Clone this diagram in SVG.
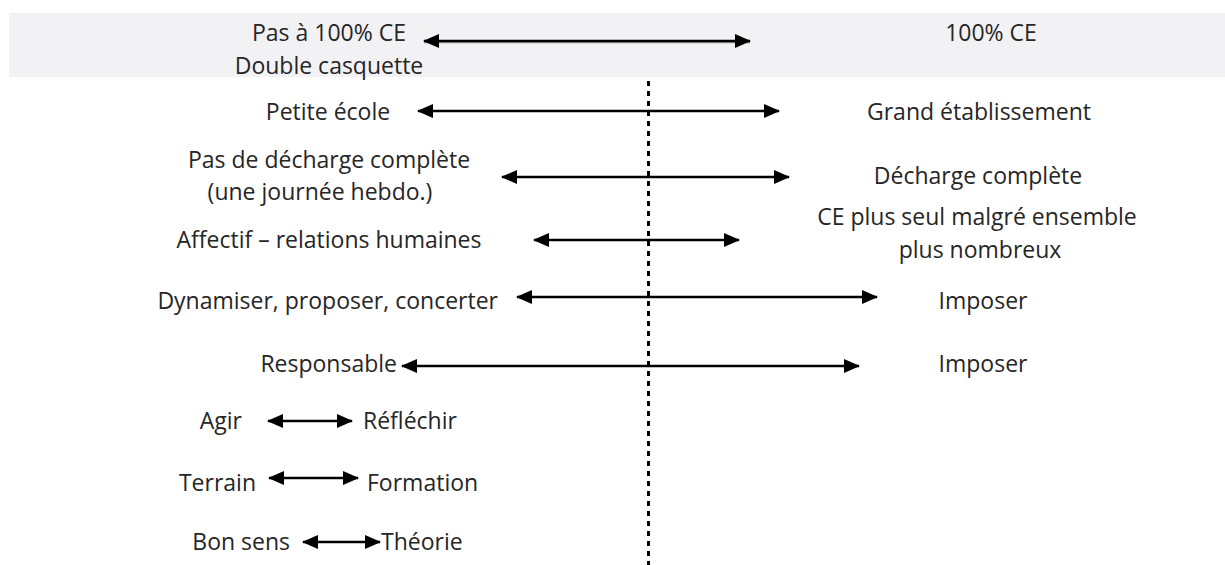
<svg xmlns="http://www.w3.org/2000/svg" width="1225" height="565" viewBox="0 0 1225 565">
  <defs>
    <marker id="ah" viewBox="0 0 16 14" refX="15" refY="7" markerWidth="16" markerHeight="14" markerUnits="userSpaceOnUse" orient="auto-start-reverse">
      <path d="M0,0 L16,7 L0,14 z" fill="#000"/>
    </marker>
  </defs>
  <style>
    text { font-family: "Open Sans", "Noto Sans", sans-serif; font-size: 23px; fill: #262626; }
    .m { text-anchor: middle; }
    .e { text-anchor: end; }
    .s { text-anchor: start; }
    .arr { stroke: #000; stroke-width: 2.4; fill: none; marker-start: url(#ah); marker-end: url(#ah); }
  </style>
  <rect id="band" x="9" y="13" width="1216" height="64" fill="#f2f2f4"/>
  <line id="axis" x1="648.5" y1="81" x2="648.5" y2="565" stroke="#000" stroke-width="3" stroke-dasharray="5 5"/>

  <g id="connectors">
    <line x1="424" y1="42.5" x2="750" y2="42.5" stroke="#999" stroke-width="1.5"/>
    <line class="arr" x1="424" y1="41" x2="750" y2="41"/>
    <line class="arr" x1="418" y1="111" x2="779" y2="111"/>
    <line class="arr" x1="502" y1="177" x2="789" y2="177"/>
    <line class="arr" x1="534" y1="240" x2="739" y2="240"/>
    <line class="arr" x1="517" y1="297" x2="877" y2="297"/>
    <line class="arr" x1="402" y1="366" x2="859" y2="366"/>
    <line class="arr" x1="268" y1="421" x2="352" y2="421"/>
    <line class="arr" x1="269" y1="478" x2="358" y2="478"/>
    <line class="arr" x1="303" y1="542" x2="380" y2="542"/>
  </g>

  <g id="n-pas100">
    <text class="m" x="329" y="41">Pas à 100% CE</text>
    <text class="m" x="329" y="74">Double casquette</text>
  </g>
  <g id="n-100"><text class="m" x="991" y="41">100% CE</text></g>

  <g id="n-petite"><text class="m" x="328" y="120">Petite école</text></g>
  <g id="n-grand"><text class="m" x="979" y="120">Grand établissement</text></g>

  <g id="n-pasdecharge">
    <text class="m" x="329" y="168">Pas de décharge complète</text>
    <text class="m" x="320" y="200">(une journée hebdo.)</text>
  </g>
  <g id="n-decharge"><text class="m" x="978" y="184">Décharge complète</text></g>

  <g id="n-affectif"><text class="m" x="329" y="248">Affectif – relations humaines</text></g>
  <g id="n-ceseul">
    <text class="m" x="977" y="225">CE plus seul malgré ensemble</text>
    <text class="m" x="980" y="258">plus nombreux</text>
  </g>

  <g id="n-dynamiser"><text class="e" x="498" y="309">Dynamiser, proposer, concerter</text></g>
  <g id="n-imposer1"><text class="m" x="983" y="309">Imposer</text></g>

  <g id="n-responsable"><text class="e" x="397" y="372">Responsable</text></g>
  <g id="n-imposer2"><text class="m" x="983" y="372">Imposer</text></g>

  <g id="n-agir"><text class="e" x="242" y="429">Agir</text></g>
  <g id="n-reflechir"><text class="s" x="363" y="429">Réfléchir</text></g>

  <g id="n-terrain"><text class="e" x="256" y="491">Terrain</text></g>
  <g id="n-formation"><text class="s" x="367" y="491">Formation</text></g>

  <g id="n-bonsens"><text class="e" x="290" y="550">Bon sens</text></g>
  <g id="n-theorie"><text class="s" x="381" y="550">Théorie</text></g>
</svg>
